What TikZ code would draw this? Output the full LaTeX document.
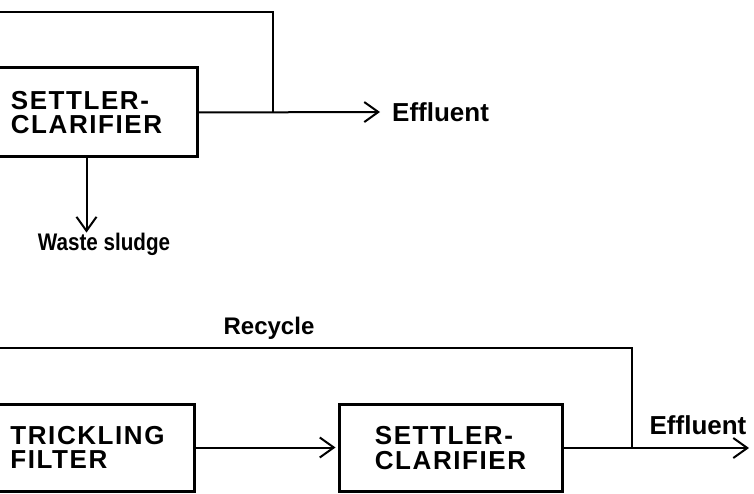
\documentclass[tikz,border=0pt]{standalone}
\usepackage{fontspec}
\setmainfont{Liberation Sans}
\newfontfamily\unitfont[LetterSpace=6]{Liberation Sans Bold}
\newfontfamily\narrowfont[FakeStretch=0.86]{Liberation Sans Bold}
\usetikzlibrary{arrows.meta}
\begin{document}
\begin{tikzpicture}[x=1pt,y=-1pt,
  unit/.style={draw,line width=3pt,minimum height=87pt,align=left,inner sep=0pt,font=\unitfont\fontsize{26}{24.5}\selectfont},
  lbl/.style={inner sep=0pt,font=\bfseries\fontsize{26}{28}\selectfont},
  small lbl/.style={lbl,font=\bfseries\fontsize{24}{26}\selectfont},
  pipe/.style={line width=2pt},
  flow/.style={pipe,-{Straight Barb[length=14pt,width=20pt,line width=2pt]}}]
\useasboundingbox (0,0) rectangle (754,494);
\clip (0,0) rectangle (754,494);
% settler alone
\node[unit,minimum width=221pt,minimum height=89pt] (sc1) at (86.5,112.5) {SETTLER-\\CLARIFIER};
\node[lbl,anchor=west] (eff1) at (392,112) {Effluent};
\node[lbl,font=\narrowfont\fontsize{24}{26}\selectfont] (ws) at (104,244) {Waste sludge};
\coordinate (rc1) at (-10,12);\coordinate (j1) at (273,112);
\draw[pipe] (rc1) -| (j1);
\draw[flow] (sc1.east) -- ([xshift=-12pt]eff1.west);
\draw[flow] (sc1.south) -- (sc1.south |- ws.north);
% trickling filter then settler
\node[small lbl] (rcy) at (269,328) {Recycle};
\node[unit,minimum width=213pt] (tf) at (87.5,447.5) {TRICKLING\\FILTER};
\node[unit,minimum width=223pt] (sc2) at (450.5,448) {SETTLER-\\CLARIFIER};
\node[lbl] (eff2) at (698,425) {Effluent};
\coordinate (rc2) at (-10,348);\coordinate (j2) at (632,448);\coordinate (out2) at (749,448);
\draw[pipe] (rc2) -| (j2);
\draw[flow,shorten >=2pt] (tf.east) -- (tf.east -| sc2.west);
\draw[flow] (sc2.east) -- (out2);
\end{tikzpicture}
\end{document}
